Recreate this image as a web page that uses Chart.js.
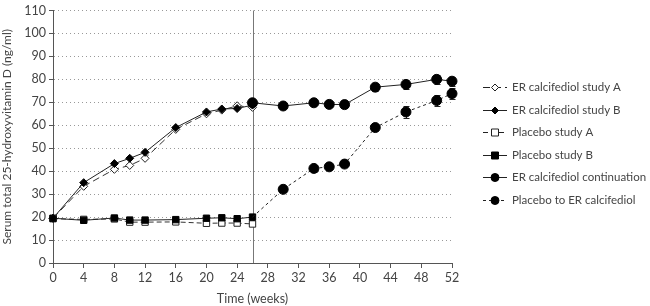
<!DOCTYPE html>
<html>
<head>
<meta charset="utf-8">
<script src="https://cdn.jsdelivr.net/npm/chart.js@4"></script>
<style>
  html, body { margin: 0; padding: 0; background: #fff; }
  #wrap { width: 650px; height: 306px; position: relative; }
</style>
</head>
<body>
<div id="wrap"><canvas id="myChart"></canvas></div>
<script>
// semanas
const weeksA = [0, 4, 8, 10, 12, 16, 20, 22, 24, 26];
const weeksB = [26, 30, 34, 36, 38, 42, 46, 50, 52];

// fase 1 (ng/ml)
const erStudyA = [19.5, 33.4, 40.8, 42.5, 45.6, 58.2, 65.0, 66.6, 68.5, 67.8];
const erStudyB = [19.5, 35.0, 43.3, 45.6, 48.2, 59.0, 65.8, 67.1, 67.3, 68.8];
const placeboA = [19.3, 19.0, 19.2, 17.8, 17.8, 17.9, 17.3, 17.4, 17.4, 17.0];
const placeboB = [19.5, 18.6, 19.6, 18.7, 18.7, 18.9, 19.5, 19.7, 19.3, 20.0];

// fase 2
const erContinuation = [69.8, 68.4, 69.8, 69.1, 69.0, 76.6, 77.8, 80.0, 79.2];
const erContErr = [1.0, 1.0, 1.0, 0.8, 0.8, 1.7, 2.0, 2.0, 2.0];
const placeboToEr = [20.0, 32.1, 41.2, 41.9, 43.1, 59.0, 65.8, 70.8, 73.8];
const placeboToErErr = [0, 1.0, 1.4, 1.0, 1.0, 1.5, 2.5, 2.5, 2.3];

const legendLabels = [
  "ER calcifediol study A",
  "ER calcifediol study B",
  "Placebo study A",
  "Placebo study B",
  "ER calcifediol continuation",
  "Placebo to ER calcifediol",
];

const FONT = "Lato, sans-serif";
const TXT = "#444";

function pares(xs, ys) {
  return xs.map((x, i) => ({ x: x, y: ys[i] }));
}

const datasets = [
  {
    label: legendLabels[0],
    data: pares(weeksA, erStudyA),
    borderColor: "#333",
    borderWidth: 1,
    borderDash: [7, 4],
    pointStyle: "rectRot",
    pointRadius: 4,
    pointBackgroundColor: "#fff",
    pointBorderColor: "#222",
    pointBorderWidth: 1,
    order: 4,
  },
  {
    label: legendLabels[1],
    data: pares(weeksA, erStudyB),
    borderColor: "#222",
    borderWidth: 1,
    pointStyle: "rectRot",
    pointRadius: 4,
    pointBackgroundColor: "#000",
    pointBorderColor: "#000",
    order: 3,
  },
  {
    label: legendLabels[2],
    data: pares(weeksA, placeboA),
    borderColor: "#333",
    borderWidth: 1,
    borderDash: [5, 3],
    pointStyle: "rect",
    pointRadius: 4.5,
    pointBackgroundColor: "#fff",
    pointBorderColor: "#222",
    pointBorderWidth: 1,
    order: 6,
  },
  {
    label: legendLabels[3],
    data: pares(weeksA, placeboB),
    borderColor: "#222",
    borderWidth: 1,
    pointStyle: "rect",
    pointRadius: 4.5,
    pointBackgroundColor: "#000",
    pointBorderColor: "#000",
    order: 5,
  },
  {
    label: legendLabels[4],
    data: pares(weeksB, erContinuation),
    borderColor: "#222",
    borderWidth: 1,
    pointStyle: "circle",
    pointRadius: 5,
    pointBackgroundColor: "#000",
    pointBorderColor: "#000",
    order: 1,
  },
  {
    label: legendLabels[5],
    data: pares(weeksB, placeboToEr),
    borderColor: "#222",
    borderWidth: 1,
    borderDash: [3, 3],
    pointStyle: "circle",
    pointRadius: weeksB.map((w, i) => (i === 0 ? 0 : 5)),
    pointBackgroundColor: "#000",
    pointBorderColor: "#000",
    order: 2,
  },
];
datasets.forEach((d) => (d.clip = false));

const errores = { 4: erContErr, 5: placeboToErErr };

// linea vertical en la semana 26 y barras de error
const extras = {
  id: "extras",
  beforeDatasetsDraw(chart) {
    const { ctx, chartArea, scales } = chart;
    const x26 = Math.round(scales.x.getPixelForValue(26)) + 0.5;
    ctx.save();
    ctx.strokeStyle = "#777";
    ctx.lineWidth = 1;
    ctx.beginPath();
    ctx.moveTo(x26, chartArea.top);
    ctx.lineTo(x26, chartArea.bottom);
    ctx.stroke();

    ctx.strokeStyle = "#222";
    for (const idx of Object.keys(errores)) {
      const err = errores[idx];
      const ys = idx == 4 ? erContinuation : placeboToEr;
      weeksB.forEach((w, i) => {
        if (!err[i]) return;
        const px = Math.round(scales.x.getPixelForValue(w)) + 0.5;
        const top = Math.round(scales.y.getPixelForValue(ys[i] + err[i])) + 0.5;
        const bot = Math.round(scales.y.getPixelForValue(ys[i] - err[i])) + 0.5;
        ctx.beginPath();
        ctx.moveTo(px, top);
        ctx.lineTo(px, bot);
        ctx.moveTo(px - 3, top);
        ctx.lineTo(px + 3, top);
        ctx.moveTo(px - 3, bot);
        ctx.lineTo(px + 3, bot);
        ctx.stroke();
      });
    }
    ctx.restore();
  },
  afterDraw(chart) {
    const { ctx } = chart;
    const x0 = 483, y0 = 87, paso = 22.6;
    ctx.save();
    chart.data.datasets.forEach((ds, i) => {
      const y = Math.round(y0 + i * paso) + 0.5;
      ctx.strokeStyle = "#222";
      ctx.lineWidth = 1;
      ctx.setLineDash(ds.borderDash || []);
      ctx.beginPath();
      ctx.moveTo(x0, y);
      ctx.lineTo(x0 + 24, y);
      ctx.stroke();
      ctx.setLineDash([]);
      const r = i >= 4 ? 4 : 3.5;
      ctx.fillStyle = ds.pointBackgroundColor;
      ctx.strokeStyle = ds.pointBorderColor;
      ctx.beginPath();
      const cx = x0 + 12;
      if (ds.pointStyle === "rectRot") {
        ctx.moveTo(cx, y - r);
        ctx.lineTo(cx + r, y);
        ctx.lineTo(cx, y + r);
        ctx.lineTo(cx - r, y);
        ctx.closePath();
      } else if (ds.pointStyle === "rect") {
        ctx.rect(cx - r, y - r, 2 * r, 2 * r);
      } else {
        ctx.arc(cx, y, r, 0, Math.PI * 2);
      }
      ctx.fill();
      ctx.stroke();
      ctx.fillStyle = TXT;
      ctx.font = "11.5px " + FONT;
      ctx.textBaseline = "middle";
      ctx.fillText(ds.label, 512, y);
    });
    ctx.restore();
  },
};

const ctx = document.getElementById("myChart").getContext("2d");
const miGrafico = new Chart(ctx, {
  type: "line",
  data: { datasets: datasets },
  options: {
    responsive: true,
    maintainAspectRatio: false,
    animation: false,
    layout: { padding: { top: 5, right: 198, left: 0, bottom: 0 } },
    plugins: { legend: { display: false }, tooltip: { enabled: false } },
    scales: {
      x: {
        type: "linear",
        min: 0,
        max: 52,
        ticks: { stepSize: 4, color: TXT, font: { family: FONT, size: 12.5 }, padding: 2, maxRotation: 0 },
        grid: { drawOnChartArea: false, drawTicks: true, tickLength: 5, tickColor: "#555" },
        border: { color: "#555", width: 1 },
        title: { display: true, text: "Time (weeks)", color: TXT, font: { family: FONT, size: 12.5 }, padding: { top: 0, bottom: 0 } },
        afterFit(scale) { scale.height = 43; },
      },
      y: {
        min: 0,
        max: 110,
        ticks: { stepSize: 10, color: TXT, font: { family: FONT, size: 12.5 }, padding: 3 },
        grid: { color: "#999", tickColor: "#555", tickLength: 4, tickBorderDash: [] },
        border: { color: "#555", width: 1, dash: [1, 3] },
        title: { display: true, text: "Serum total 25-hydroxyvitamin D (ng/ml)", color: TXT, font: { family: FONT, size: 12 }, padding: { top: 0, bottom: 2 } },
        afterFit(scale) { scale.width = 53; },
      },
    },
  },
  plugins: [extras],
});
</script>
</body>
</html>
